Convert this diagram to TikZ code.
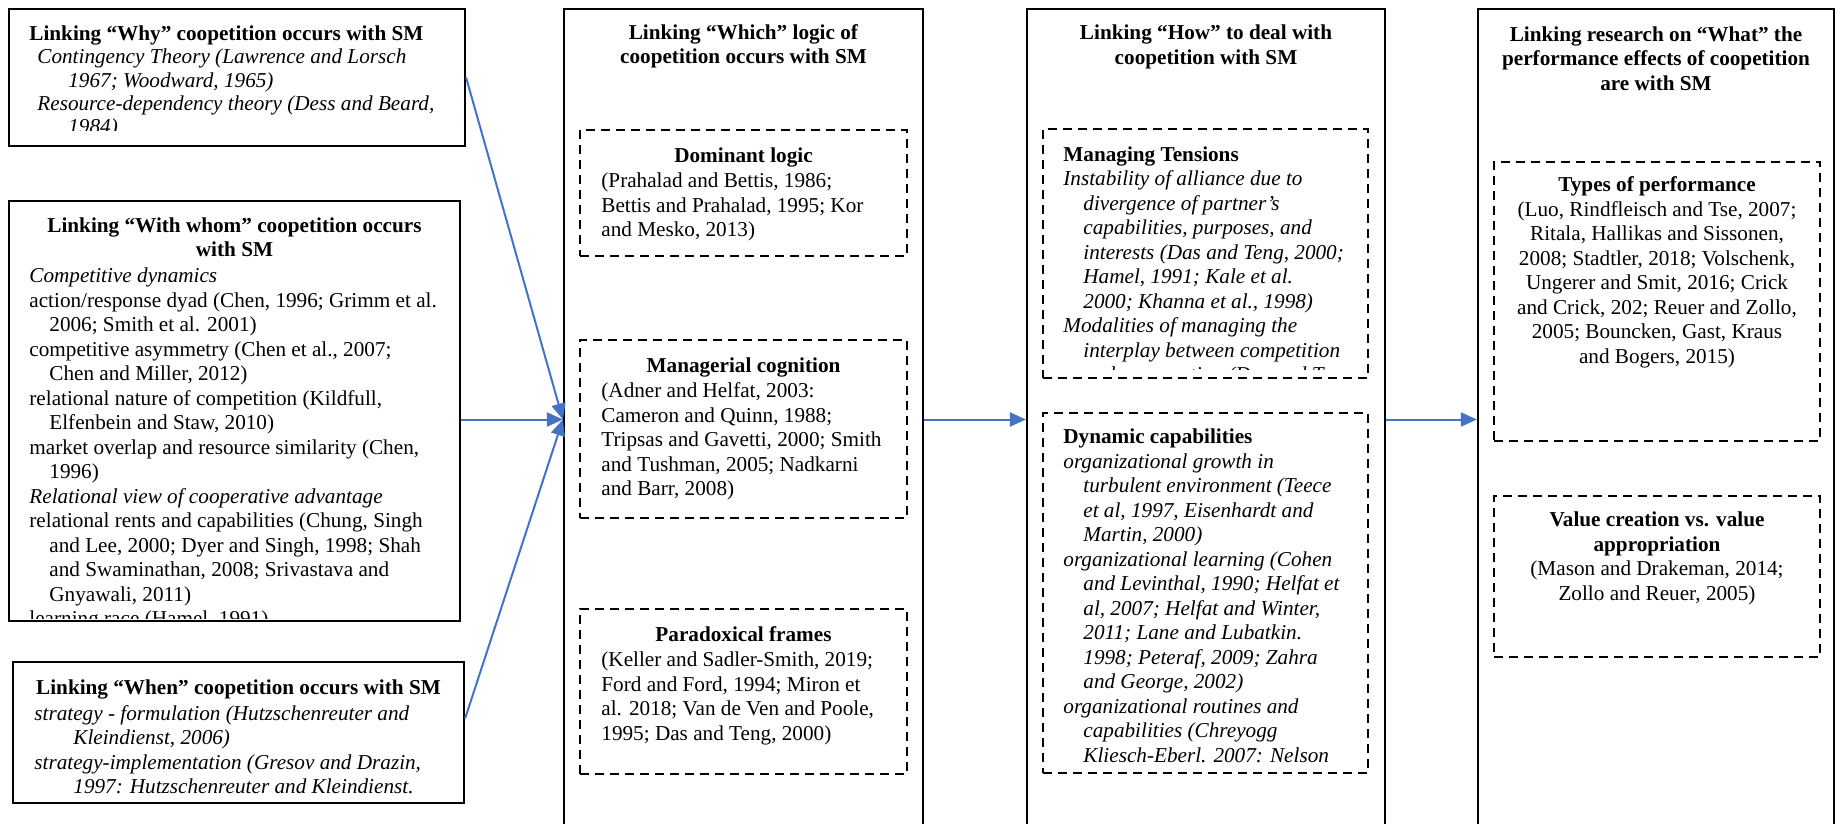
\documentclass[tikz,border=0pt]{standalone}
\usepackage{fontspec}
\setmainfont{Liberation Serif}
\usetikzlibrary{arrows.meta,fit}
\newcommand{\ind}{\hspace*{10pt}}
\begin{document}
\begin{tikzpicture}[x=0.5pt,y=-0.5pt,
  solidbox/.style={draw=black, line width=1.1pt, inner sep=0pt},
  dashbox/.style={draw=black, line width=0.9pt, dash pattern=on 4.5pt off 3pt, inner sep=0pt},
  txt/.style={font=\fontsize{10.6}{12.25}\selectfont, inner sep=0pt, align=left, anchor=north west},
  itxt/.style={font=\fontsize{10.6}{12.25}\selectfont\itshape, inner sep=0pt, align=left, anchor=north west},
  txtw/.style={font=\fontsize{10.6}{11.65}\selectfont, inner sep=0pt, align=left, anchor=north west},
  itxtw/.style={font=\fontsize{10.6}{11.65}\selectfont\itshape, inner sep=0pt, align=left, anchor=north west},
  ctxt/.style={font=\fontsize{10.6}{12.25}\selectfont, inner sep=0pt, align=center, anchor=north},
  arr/.style={draw={rgb,255:red,68;green,114;blue,196}, line width=1pt, -{Triangle[length=8pt,width=7pt]}}
]
\useasboundingbox (0,0) rectangle (1836,824);

% ---------- solid boxes ----------
\node[solidbox, fit={(9,9)(465,146)}] (why) {};
\node[solidbox, fit={(9,201)(460,621)}] (whom) {};
\node[solidbox, fit={(13,662)(464,803)}] (when) {};
\node[solidbox, fit={(564,9)(923,830)}] (which) {};
\node[solidbox, fit={(1027,9)(1385,830)}] (how) {};
\node[solidbox, fit={(1478,9)(1834,830)}] (what) {};

% ---------- dashed boxes ----------
\node[dashbox, fit={(580,130)(907,256)}] (dom) {};
\node[dashbox, fit={(580,340)(907,518)}] (mgc) {};
\node[dashbox, fit={(580,609)(907,774)}] (par) {};
\node[dashbox, fit={(1043,129)(1368,378)}] (mten) {};
\node[dashbox, fit={(1043,413)(1368,773)}] (dyn) {};
\node[dashbox, fit={(1494,162)(1820,441)}] (types) {};
\node[dashbox, fit={(1494,496)(1820,657)}] (value) {};

% ---------- Why ----------
\begin{scope}
\clip (9,9) rectangle (465,131);
\node[txtw] (whyT) at (29,24) {\strut\textbf{Linking “Why” coopetition occurs with SM}};
\node[itxtw] (whyB) at (37,47) {\strut Contingency Theory (Lawrence and Lorsch\\
\hspace*{15.5pt}1967; Woodward, 1965)\\
Resource-dependency theory (Dess and Beard,\\
\hspace*{15.5pt}1984)};
\end{scope}

% ---------- With whom ----------
\node[ctxt] (whomT) at (234.5,214.5) {\strut\textbf{Linking “With whom” coopetition occurs}\\\textbf{with SM}};
\begin{scope}
\clip (9,201) rectangle (460,618);
\node[txt] (whomB) at (29,265) {\strut\textit{Competitive dynamics}\\
action/response dyad (Chen, 1996; Grimm et al.\\
\ind 2006; Smith et al. 2001)\\
competitive asymmetry (Chen et al., 2007;\\
\ind Chen and Miller, 2012)\\
relational nature of competition (Kildfull,\\
\ind Elfenbein and Staw, 2010)\\
market overlap and resource similarity (Chen,\\
\ind 1996)\\
\textit{Relational view of cooperative advantage}\\
relational rents and capabilities (Chung, Singh\\
\ind and Lee, 2000; Dyer and Singh, 1998; Shah\\
\ind and Swaminathan, 2008; Srivastava and\\
\ind Gnyawali, 2011)\\
learning race (Hamel, 1991)};
\end{scope}

% ---------- When ----------
\node[ctxt] (whenT) at (238.5,676.5) {\strut\textbf{Linking “When” coopetition occurs with SM}};
\node[itxt] (whenB) at (34,702.5) {\strut strategy - formulation (Hutzschenreuter and\\
\hspace*{19.5pt}Kleindienst, 2006)\\
strategy-implementation (Gresov and Drazin,\\
\hspace*{19.5pt}1997: Hutzschenreuter and Kleindienst.};

% ---------- Which ----------
\node[ctxt] (whichT) at (743.5,21.5) {\strut\textbf{Linking “Which” logic of}\\\textbf{coopetition occurs with SM}};
\node[ctxt] (domT) at (743.5,145) {\strut\textbf{Dominant logic}};
\node[txt] (domB) at (601,170) {\strut(Prahalad and Bettis, 1986;\\
Bettis and Prahalad, 1995; Kor\\
and Mesko, 2013)};
\node[ctxt] (mgcT) at (743.5,355) {\strut\textbf{Managerial cognition}};
\node[txt] (mgcB) at (601,380) {\strut(Adner and Helfat, 2003:\\
Cameron and Quinn, 1988;\\
Tripsas and Gavetti, 2000; Smith\\
and Tushman, 2005; Nadkarni\\
and Barr, 2008)};
\node[ctxt] (parT) at (743.5,624) {\strut\textbf{Paradoxical frames}};
\node[txt] (parB) at (601,649) {\strut(Keller and Sadler-Smith, 2019;\\
Ford and Ford, 1994; Miron et\\
al. 2018; Van de Ven and Poole,\\
1995; Das and Teng, 2000)};

% ---------- How ----------
\node[ctxt] (howT) at (1206,22) {\strut\textbf{Linking “How” to deal with}\\\textbf{coopetition with SM}};
\begin{scope}
\clip (1043,129) rectangle (1368,369);
\node[txt] (mtenB) at (1063,143.5) {\strut\textbf{Managing Tensions}\\
\itshape Instability of alliance due to\\
\ind\itshape divergence of partner’s\\
\ind\itshape capabilities, purposes, and\\
\ind\itshape interests (Das and Teng, 2000;\\
\ind\itshape Hamel, 1991; Kale et al.\\
\ind\itshape 2000; Khanna et al., 1998)\\
\itshape Modalities of managing the\\
\ind\itshape interplay between competition\\
\ind\itshape and cooperation (Das and Teng,};
\end{scope}
\node[txt] (dynB) at (1063,426) {\strut\textbf{Dynamic capabilities}\\
\itshape organizational growth in\\
\ind\itshape turbulent environment (Teece\\
\ind\itshape et al, 1997, Eisenhardt and\\
\ind\itshape Martin, 2000)\\
\itshape organizational learning (Cohen\\
\ind\itshape and Levinthal, 1990; Helfat et\\
\ind\itshape al, 2007; Helfat and Winter,\\
\ind\itshape 2011; Lane and Lubatkin.\\
\ind\itshape 1998; Peteraf, 2009; Zahra\\
\ind\itshape and George, 2002)\\
\itshape organizational routines and\\
\ind\itshape capabilities (Chreyogg\\
\ind\itshape Kliesch-Eberl. 2007: Nelson};

% ---------- What ----------
\node[ctxt] (whatT) at (1656,23.5) {\strut\textbf{Linking research on “What” the}\\
\textbf{performance effects of coopetition}\\\textbf{are with SM}};
\node[ctxt] (typesB) at (1657,174) {\strut\textbf{Types of performance}\\
(Luo, Rindfleisch and Tse, 2007;\\
Ritala, Hallikas and Sissonen,\\
2008; Stadtler, 2018; Volschenk,\\
Ungerer and Smit, 2016; Crick\\
and Crick, 202; Reuer and Zollo,\\
2005; Bouncken, Gast, Kraus\\
and Bogers, 2015)};
\node[ctxt] (valueB) at (1657,509) {\strut\textbf{Value creation vs. value}\\
\textbf{appropriation}\\
(Mason and Drakeman, 2014;\\
Zollo and Reuer, 2005)};

% ---------- arrows ----------
\draw[arr] (why.east) -- (which.west);
\draw[arr] (whom.east |- which.west) -- (which.west);
\draw[arr] ([yshift=7pt]when.east) -- (which.west);
\draw[arr] (which.east) -- (how.west);
\draw[arr] (how.east) -- (what.west);
\end{tikzpicture}
\end{document}
